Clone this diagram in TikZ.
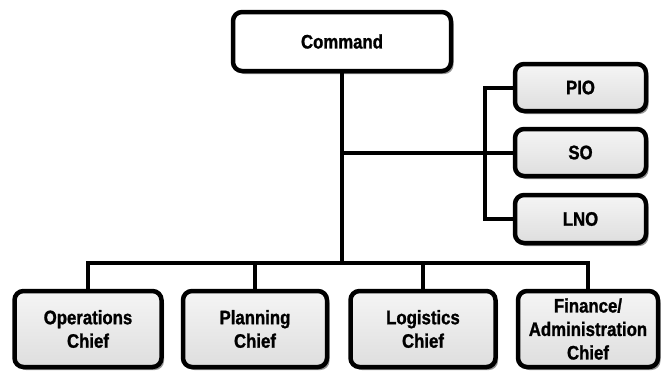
\documentclass[tikz,border=0pt]{standalone}
\usepackage{fontspec}
\setmainfont[FakeStretch=0.86,BoldFeatures={FakeBold=1.2}]{Liberation Sans}
\usetikzlibrary{shadows}
\begin{document}
\begin{tikzpicture}[x=1pt,y=-1pt,
  box/.style={draw=black, line width=4.5pt, rounded corners=9pt,
    top color=gray!8, bottom color=gray!26, align=center,
    font=\fontsize{19.5}{23.5}\selectfont\bfseries, inner sep=0pt,
    drop shadow={shadow xshift=2.5pt, shadow yshift=-3pt, fill=black!55, opacity=0.75}},
  cmdbox/.style={box, top color=white, bottom color=white},
  conn/.style={line width=4pt}]
\useasboundingbox (0,0) rectangle (664,373);
\node[cmdbox, minimum width=218pt, minimum height=59pt] (cmd) at (342,41.5) {Command};
\node[box, minimum width=131pt, minimum height=47pt] (pio) at (580.5,87.5) {PIO};
\node[box, minimum width=131pt, minimum height=47pt] (so) at (580.5,152.5) {SO};
\node[box, minimum width=131pt, minimum height=48pt] (lno) at (580.5,219) {LNO};
\node[box, minimum width=147pt, minimum height=76pt] (ops) at (88,329) {Operations\\Chief};
\node[box, minimum width=144pt, minimum height=76pt] (plan) at (255,329) {Planning\\Chief};
\node[box, minimum width=145pt, minimum height=76pt] (log) at (423,329) {Logistics\\Chief};
\node[box, minimum width=140pt, minimum height=76pt] (fin) at (588,329) {Finance/\\Administration\\Chief};
\coordinate (hub) at (342,263);
\coordinate (stj) at (342,152.5);
\coordinate (brk) at (485,152.5);
\draw[conn] (cmd.south) -- (hub);
\draw[conn] (stj) -- (so.west);
\draw[conn] (pio.west) -| (brk) |- (lno.west);
\draw[conn] (ops.north) |- (hub) -| (fin.north);
\draw[conn] (plan.north) -- (plan.north |- hub);
\draw[conn] (log.north) -- (log.north |- hub);
\end{tikzpicture}
\end{document}
